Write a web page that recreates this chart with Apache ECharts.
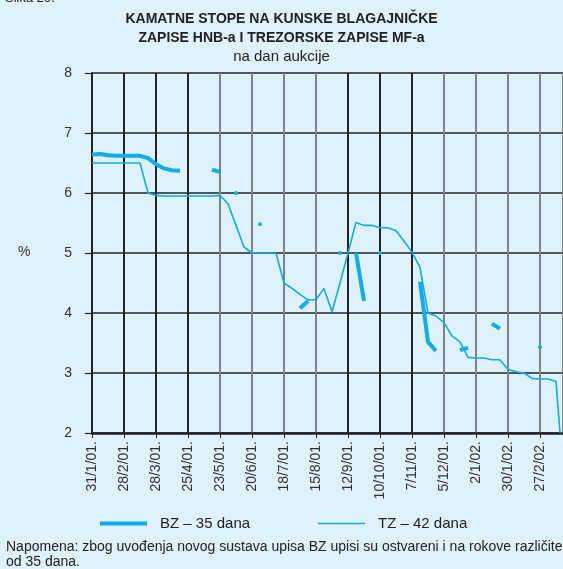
<!DOCTYPE html>
<html>
<head>
<meta charset="utf-8">
<script src="https://cdn.jsdelivr.net/npm/echarts@6/dist/echarts.min.js"></script>
<style>
  html, body { margin: 0; padding: 0; background: #dff1fb; }
  #chart { width: 563px; height: 569px; }
</style>
</head>
<body>
<div id="chart"></div>
<script>
// x is counted in weeks from 31/1/01 (auction days), a label every 4 weeks
const xLabels = ['31/1/01.', '28/2/01.', '28/3/01.', '25/4/01.', '23/5/01.', '20/6/01.', '18/7/01.',
  '15/8/01.', '12/9/01.', '10/10/01.', '7/11/01.', '5/12/01.', '2/1/02.', '30/1/02.', '27/2/02.'];

// TZ – 42 dana, one value per week 0..58, then the last drop
const tzWeek = [0, 1, 2, 3, 4, 5, 6, 7, 8, 9, 10, 11, 12, 13, 14, 15, 16, 17, 18, 19, 20, 21, 22, 23, 24,
  25, 26, 27, 28, 29, 30, 31, 32, 33, 34, 35, 36, 37, 38, 39, 40, 41, 42, 43, 44, 45, 46, 47, 48, 49,
  50, 51, 52, 53, 54, 55, 56, 57, 58, 58.5];
const tzRate = [6.5, 6.5, 6.5, 6.5, 6.5, 6.5, 6.5, 6.0, 5.96, 5.95, 5.95, 5.95, 5.95, 5.95, 5.95, 5.95, 5.96,
  5.82, 5.46, 5.1, 5.0, 5.0, 5.0, 5.0, 4.5, 4.41, 4.31, 4.22, 4.22, 4.41, 4.02, 4.5, 5.0, 5.51, 5.46,
  5.46, 5.42, 5.42, 5.37, 5.2, 5.01, 4.76, 4.0, 3.95, 3.84, 3.62, 3.52, 3.26, 3.25, 3.25, 3.22, 3.22,
  3.06, 3.02, 3.0, 2.91, 2.9, 2.9, 2.86, 2.0];

// BZ – 35 dana, weeks 0..56, null where there was no 35-day auction
const bzRate = [6.64, 6.65, 6.63, 6.62, 6.62, 6.62, 6.62, 6.58, 6.48, 6.41, 6.38, 6.37, null, null, null,
  6.39, 6.35, null, 6.0, null, null, 5.48, null, null, null, null, 4.08, 4.2, null, null, null, 5.0,
  null, 5.0, 4.2, null, 5.0, null, null, null, null, 4.52, 3.52, 3.37, null, null, 3.38, 3.42, null,
  null, 3.82, 3.74, null, null, null, null, 3.43];

const blue = '#0aaeea';
const font = 'Liberation Sans, Arial, sans-serif';

const tzData = tzWeek.map((w, i) => [w, tzRate[i]]);
const bzData = bzRate.map((v, w) => {
  if (v === null) return [w, '-'];
  const alone = (bzRate[w - 1] == null) && (bzRate[w + 1] == null);
  return alone ? { value: [w, v], symbol: 'circle', symbolSize: 4 } : [w, v];
});

// vertical grid lines alternate between black and grey in the print
const vColors = ['#222', '#222', '#222', '#222', '#7d8489', '#7d8489', '#7d8489', '#7d8489',
  '#222', '#222', '#222', '#7d8489', '#7d8489', '#7d8489', '#7d8489', '#7d8489'];

const legendText = { fontFamily: font, fontSize: 15, color: '#222', padding: [0, 0, 0, 8] };

const chart = echarts.init(document.getElementById('chart'));
chart.setOption({
  backgroundColor: '#dff1fb',
  animation: false,
  textStyle: { fontFamily: font },
  title: {
    text: 'KAMATNE STOPE NA KUNSKE BLAGAJNIČKE\nZAPISE HNB-a I TREZORSKE ZAPISE MF-a',
    subtext: 'na dan aukcije',
    left: 'center',
    top: 5,
    itemGap: 0,
    textStyle: { fontFamily: font, fontSize: 14, fontWeight: 'bold', color: '#222', lineHeight: 19 },
    subtextStyle: { fontFamily: font, fontSize: 15, color: '#222', lineHeight: 18 }
  },
  legend: [
    {
      data: ['BZ – 35 dana'], left: 100, top: 516, padding: 0, icon: 'rect',
      itemWidth: 47, itemHeight: 4, textStyle: legendText
    },
    {
      data: ['TZ – 42 dana'], left: 318, top: 516, padding: 0, icon: 'rect',
      itemWidth: 47, itemHeight: 1.6, textStyle: legendText
    }
  ],
  grid: { left: 92, right: 0, top: 73, bottom: 136, containLabel: false },
  xAxis: {
    type: 'value',
    min: 0,
    max: 58.875,
    interval: 4,
    axisLine: { show: true, lineStyle: { color: '#222', width: 2.5 } },
    axisTick: { show: true, length: 5, lineStyle: { color: '#222', width: 1 } },
    axisLabel: {
      rotate: 90, margin: 8, fontSize: 14, color: '#333', showMaxLabel: false,
      formatter: (v) => xLabels[Math.round(v / 4)] || ''
    },
    splitLine: { show: true, lineStyle: { color: vColors, width: 2 } }
  },
  yAxis: {
    type: 'value',
    min: 2,
    max: 8,
    interval: 1,
    axisLine: { show: true, lineStyle: { color: '#222', width: 2 } },
    axisTick: { show: true, length: 7, lineStyle: { color: '#222', width: 1.2 } },
    axisLabel: { margin: 20, fontSize: 14, color: '#333' },
    splitLine: { show: true, lineStyle: { color: '#222', width: 1.5 } }
  },
  graphic: [
    { type: 'text', left: 5, top: -8, style: { text: 'Slika 29.', font: '13px ' + font, fill: '#222' } },
    { type: 'text', left: 18, top: 245, style: { text: '%', font: '14px ' + font, fill: '#333' } },
    {
      type: 'text', left: 6, top: 540,
      style: {
        text: 'Napomena: zbog uvođenja novog sustava upisa BZ upisi su ostvareni i na rokove različite\nod 35 dana.',
        font: '14px ' + font, fill: '#222', lineHeight: 14.5
      }
    }
  ],
  series: [
    {
      name: 'BZ – 35 dana',
      type: 'line',
      data: bzData,
      symbol: 'none',
      showSymbol: true,
      connectNulls: false,
      itemStyle: { color: blue },
      lineStyle: { color: blue, width: 4 },
      z: 3
    },
    {
      name: 'TZ – 42 dana',
      type: 'line',
      data: tzData,
      symbol: 'none',
      itemStyle: { color: blue },
      lineStyle: { color: blue, width: 1.6 },
      z: 2
    }
  ]
});
</script>
</body>
</html>
